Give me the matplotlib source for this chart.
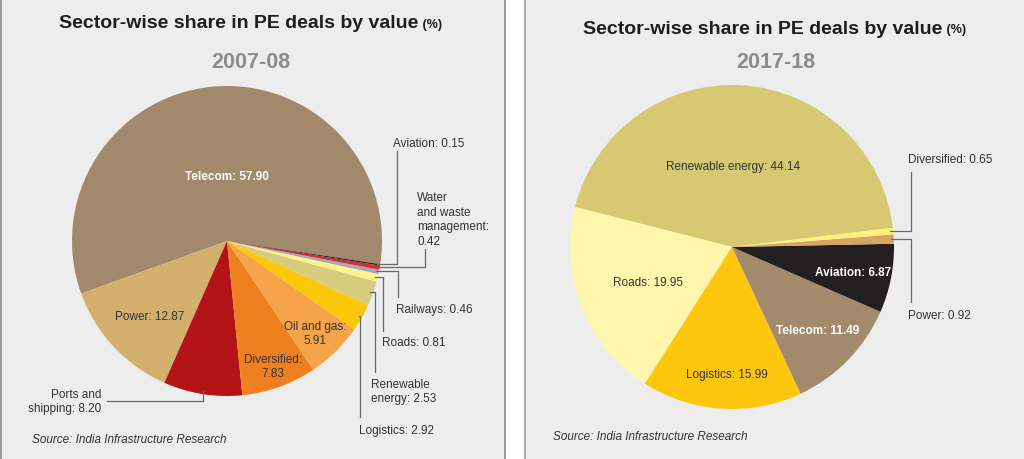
import matplotlib.pyplot as plt
from matplotlib.patches import Rectangle
import numpy as np

plt.rcParams['font.family'] = ['Liberation Sans Narrow', 'Liberation Sans', 'DejaVu Sans']

W, H = 1024, 460

# Datos 2007-08
sectores_0708 = ["Telecom", "Power", "Ports and\nshipping", "Diversified", "Oil and gas",
                 "Logistics", "Renewable\nenergy", "Roads", "Railways",
                 "Water\nand waste\nmanagement", "Aviation"]
valores_0708 = [57.90, 12.87, 8.20, 7.83, 5.91, 2.92, 2.53, 0.81, 0.46, 0.42, 0.15]
colores_0708 = ["#a2896b", "#d4b06f", "#b31217", "#f0801f", "#f6a44a", "#fcc80a",
                "#d7cc7e", "#fdf38e", "#a7a7b0", "#d42c33", "#231f20"]
sep_0708 = [" ", " ", " ", "\n", "\n", " ", " ", " ", " ", "\n", " "]

# Datos 2017-18
sectores_1718 = ["Renewable energy", "Roads", "Logistics", "Telecom", "Aviation",
                 "Power", "Diversified"]
valores_1718 = [44.14, 19.95, 15.99, 11.49, 6.87, 0.92, 0.65]
colores_1718 = ["#d6c972", "#fff6ae", "#fec60c", "#a38a6b", "#231f20", "#d6a665", "#fff27a"]
sep_1718 = [" "] * 7

# posiciones de etiquetas en pixeles (y hacia abajo)
# ("in", x, y, blanco) o ("out", x, y, ha, codo_x, fin_y, estilo)
pos_0708 = [
    ("in", 227, 177, True),
    ("in", 150, 317, False),
    ("out", 101, 402, "right", 107, 402, "vh"),
    ("in", 273, 367, False),
    ("in", 315, 334, False),
    ("out", 359, 431, "left", 360, 418, "hv"),
    ("out", 371, 392, "left", 375, 373, "hv"),
    ("out", 382, 343, "left", 383, 332, "hv"),
    ("out", 396, 310, "left", 398, 298, "hv"),
    ("out", 417, 220, "left", 425, 250, "hv"),
    ("out", 393, 144, "left", 397, 152, "hv"),
]
pos_1718 = [
    ("in", 733, 167, False),
    ("in", 648, 283, False),
    ("in", 727, 375, False),
    ("in", 818, 331, True),
    ("in", 853, 273, True),
    ("out", 908, 316, "left", 911, 303, "hv"),
    ("out", 908, 160, "left", 911, 173, "hv"),
]

texto = "#333333"
linea = "#6a6a6a"
tam = 8.5

fig = plt.figure(figsize=(W / 100, H / 100), dpi=100)
fig.patch.set_facecolor("white")
ax = fig.add_axes([0, 0, 1, 1])

# Paneles
ax.add_patch(Rectangle((0.5, -2), 504.5, H + 4, facecolor="#ededed", edgecolor="#8a8a8a", lw=1.2, zorder=0))
ax.add_patch(Rectangle((525, -2), 502, H + 4, facecolor="#ededed", edgecolor="#9a9a9a", lw=1.2, zorder=0))


def dibujar_pie(valores, colores, sectores, seps, posiciones, centro, radio, inicio):
    cx, cy = centro[0], H - centro[1]
    wedges, _ = ax.pie(valores, colors=colores, startangle=inicio, center=(cx, cy),
                       radius=radio, counterclock=True, wedgeprops=dict(linewidth=0))
    for w, nombre, v, s, p in zip(wedges, sectores, valores, seps, posiciones):
        etiqueta = f"{nombre}:{s}{v:.2f}"
        if p[0] == "in":
            blanco = p[3]
            ax.text(p[1], H - p[2], etiqueta, ha="center", va="center", fontsize=tam,
                    color="white" if blanco else texto,
                    fontweight="bold" if blanco else "normal",
                    multialignment="center", linespacing=1.2)
        else:
            _, tx, ty, ha, codo, fin, estilo = p
            ang = np.radians((w.theta1 + w.theta2) / 2)
            axx = cx + 0.98 * radio * np.cos(ang)
            ayy = cy + 0.98 * radio * np.sin(ang)
            if estilo == "hv":
                xs = [axx, codo, codo]
                ys = [ayy, ayy, H - fin]
            else:
                xs = [axx, axx, codo]
                ys = [ayy, H - fin, H - fin]
            ax.plot(xs, ys, color=linea, lw=0.9, zorder=3)
            ax.text(tx, H - ty, etiqueta, ha=ha, va="center", fontsize=tam, color=texto,
                    multialignment=ha, linespacing=1.3)


dibujar_pie(valores_0708, colores_0708, sectores_0708, sep_0708, pos_0708, (227, 242), 155, -8.6)
dibujar_pie(valores_1718, colores_1718, sectores_1718, sep_1718, pos_1718, (732, 248), 162, 6.8)

# Titulos
for x_tit, y_tit, anio, x_anio in [(239, 24, "2007-08", 251), (763, 29, "2017-18", 776)]:
    t = ax.text(x_tit, H - y_tit, "Sector-wise share in PE deals by value", ha="center", va="center",
                fontsize=14, fontweight="bold", color="#1e1e1e")
    ax.annotate(" (%)", xy=(1, 0.1), xycoords=t, ha="left", va="bottom",
                fontsize=9, fontweight="bold", color="#1e1e1e")
    ax.text(x_anio, H - 63, anio, ha="center", va="center", fontsize=15.5,
            fontweight="bold", color="#8c8c8c")

ax.text(32, H - 440, "Source: India Infrastructure Research", ha="left", va="center",
        fontsize=tam, style="italic", color=texto)
ax.text(553, H - 437, "Source: India Infrastructure Research", ha="left", va="center",
        fontsize=tam, style="italic", color=texto)

ax.set_xlim(0, W)
ax.set_ylim(0, H)
ax.set_aspect("auto")
ax.axis("off")

fig.savefig("out.png", dpi=100, facecolor="white")
